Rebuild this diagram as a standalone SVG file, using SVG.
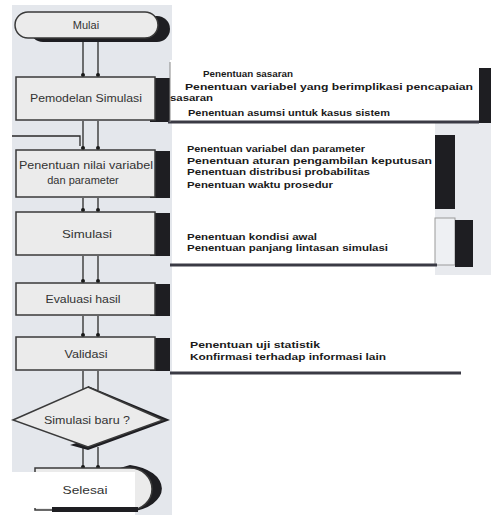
<svg xmlns="http://www.w3.org/2000/svg" width="491" height="515" viewBox="0 0 491 515">
<style>
.box{fill:#ebebeb;stroke:#3a3a3a;stroke-width:1.5}
.sh{fill:#1e1e22}
.lbl{font-family:"Liberation Sans",Arial,sans-serif;font-size:11px;fill:#333333;text-anchor:middle}
.txt{font-family:"Liberation Sans",Arial,sans-serif;font-size:9.5px;font-weight:bold;fill:#1a1a1a}
.con{stroke:#2a2a2a;stroke-width:1.3;fill:none}
.rule{stroke:#3a3a44;stroke-width:3}
</style>
<defs>
<marker id="dot" viewBox="0 0 6 6" refX="3" refY="3" markerWidth="4" markerHeight="4" markerUnits="userSpaceOnUse"><circle cx="3" cy="3" r="3" fill="#1a1a1a"/></marker>
</defs>
<rect width="491" height="515" fill="#ffffff"/>
<rect x="12" y="5" width="160" height="510" fill="#e4e7ec"/>
<rect x="0" y="472" width="135" height="43" fill="#ffffff"/>
<rect x="435" y="123" width="56" height="152" fill="#e8eaee"/>

<g id="connectors">
<line class="con" x1="83" y1="40" x2="83" y2="75" marker-end="url(#dot)"/>
<line class="con" x1="98" y1="40" x2="98" y2="75" marker-end="url(#dot)"/>
<line class="con" x1="83" y1="121" x2="83" y2="148" marker-end="url(#dot)"/>
<line class="con" x1="98" y1="121" x2="98" y2="148" marker-end="url(#dot)"/>
<polyline class="con" points="12,136 80,136 80,146"/>
<line class="con" x1="83" y1="198" x2="83" y2="210" marker-end="url(#dot)"/>
<line class="con" x1="98" y1="198" x2="98" y2="210" marker-end="url(#dot)"/>
<line class="con" x1="83" y1="256" x2="83" y2="281" marker-end="url(#dot)"/>
<line class="con" x1="98" y1="256" x2="98" y2="281" marker-end="url(#dot)"/>
<line class="con" x1="83" y1="316" x2="83" y2="335" marker-end="url(#dot)"/>
<line class="con" x1="98" y1="316" x2="98" y2="335" marker-end="url(#dot)"/>
<line class="con" x1="83" y1="371" x2="83" y2="390"/>
<line class="con" x1="98" y1="371" x2="98" y2="390"/>
<line class="con" x1="83" y1="447" x2="83" y2="467" marker-end="url(#dot)"/>
<line class="con" x1="98" y1="447" x2="98" y2="467" marker-end="url(#dot)"/>
</g>

<g id="mulai">
<rect class="sh" x="30" y="16" width="140" height="26" rx="13"/>
<rect class="box" x="15" y="12" width="143" height="26" rx="13"/>
<text class="lbl" x="86" y="29">Mulai</text>
</g>

<g id="pemodelan">
<rect class="sh" x="150" y="78" width="20" height="44"/>
<rect class="box" x="16" y="77" width="139" height="43"/>
<text class="lbl" x="86" y="102" textLength="112" lengthAdjust="spacingAndGlyphs">Pemodelan Simulasi</text>
</g>

<g id="penentuan">
<rect class="sh" x="150" y="151" width="20" height="47"/>
<rect class="box" x="16" y="150" width="139" height="47"/>
<text class="lbl" x="86" y="169" textLength="134" lengthAdjust="spacingAndGlyphs">Penentuan nilai variabel</text>
<text class="lbl" x="83" y="184">dan parameter</text>
</g>

<g id="simulasi">
<rect class="sh" x="150" y="213" width="20" height="43"/>
<rect class="box" x="16" y="212" width="139" height="43"/>
<text class="lbl" x="87" y="238" textLength="50" lengthAdjust="spacingAndGlyphs">Simulasi</text>
</g>

<g id="evaluasi">
<rect class="sh" x="150" y="284" width="20" height="32"/>
<rect class="box" x="16" y="283" width="139" height="32"/>
<text class="lbl" x="83" y="303" textLength="75" lengthAdjust="spacingAndGlyphs">Evaluasi hasil</text>
</g>

<g id="validasi">
<rect class="sh" x="150" y="338" width="20" height="33"/>
<rect class="box" x="16" y="337" width="139" height="33"/>
<text class="lbl" x="86" y="358" textLength="43" lengthAdjust="spacingAndGlyphs">Validasi</text>
</g>

<g id="diamond">
<polygon class="sh" points="88,386 170,420 88,450 70,445 150,420 88,392"/>
<polygon class="box" points="88,387 163,420 88,447 13,420"/>
<text class="lbl" x="87" y="424" textLength="86" lengthAdjust="spacingAndGlyphs">Simulasi baru ?</text>
</g>

<g id="selesai">
<path class="sh" d="M130,465 A40,24 0 0 1 130,512 L120,512 A30,22 0 0 0 120,468 Z"/>
<path class="box" d="M35,468 L130,468 A22,21 0 0 1 130,510 L35,510 Z"/>
<rect x="13" y="472" width="122" height="36" fill="#ffffff"/>
<rect class="sh" x="52" y="507" width="86" height="5"/>
<text class="lbl" x="85" y="494" textLength="45" lengthAdjust="spacingAndGlyphs">Selesai</text>
</g>

<g id="note-pemodelan">
<rect class="sh" x="479" y="68" width="12" height="55"/>
<rect x="170" y="60" width="309" height="61" fill="#ffffff"/>
<line class="rule" x1="168" y1="122" x2="479" y2="122"/>
<line x1="170" y1="62" x2="170" y2="122" stroke="#888" stroke-width="1"/>
<text class="txt" x="203" y="77" textLength="90" lengthAdjust="spacingAndGlyphs">Penentuan sasaran</text>
<text class="txt" x="185" y="90" textLength="288" lengthAdjust="spacingAndGlyphs">Penentuan variabel yang berimplikasi pencapaian</text>
<text class="txt" x="170" y="101" textLength="43" lengthAdjust="spacingAndGlyphs">sasaran</text>
<text class="txt" x="188" y="116" textLength="202" lengthAdjust="spacingAndGlyphs">Penentuan asumsi untuk kasus sistem</text>
</g>

<g id="note-penentuan">
<rect class="sh" x="435" y="135" width="20" height="74"/>
<text class="txt" x="187" y="152" textLength="178" lengthAdjust="spacingAndGlyphs">Penentuan variabel dan parameter</text>
<text class="txt" x="187" y="164" textLength="245" lengthAdjust="spacingAndGlyphs">Penentuan aturan pengambilan keputusan</text>
<text class="txt" x="187" y="175" textLength="183" lengthAdjust="spacingAndGlyphs">Penentuan distribusi probabilitas</text>
<text class="txt" x="187" y="188" textLength="146" lengthAdjust="spacingAndGlyphs">Penentuan waktu prosedur</text>
</g>

<g id="note-simulasi">
<rect x="435" y="218" width="20" height="47" fill="#eef0f3" stroke="#9a9a9a" stroke-width="1"/>
<rect class="sh" x="455" y="220" width="18" height="47"/>
<line class="rule" x1="170" y1="265" x2="437" y2="265"/>
<text class="txt" x="187" y="240" textLength="130" lengthAdjust="spacingAndGlyphs">Penentuan kondisi awal</text>
<text class="txt" x="187" y="251" textLength="201" lengthAdjust="spacingAndGlyphs">Penentuan panjang lintasan simulasi</text>
</g>

<g id="note-validasi">
<line class="rule" x1="170" y1="373" x2="461" y2="373"/>
<text class="txt" x="190" y="348" textLength="130" lengthAdjust="spacingAndGlyphs">Penentuan uji statistik</text>
<text class="txt" x="190" y="360" textLength="196" lengthAdjust="spacingAndGlyphs">Konfirmasi terhadap informasi lain</text>
</g>
</svg>
